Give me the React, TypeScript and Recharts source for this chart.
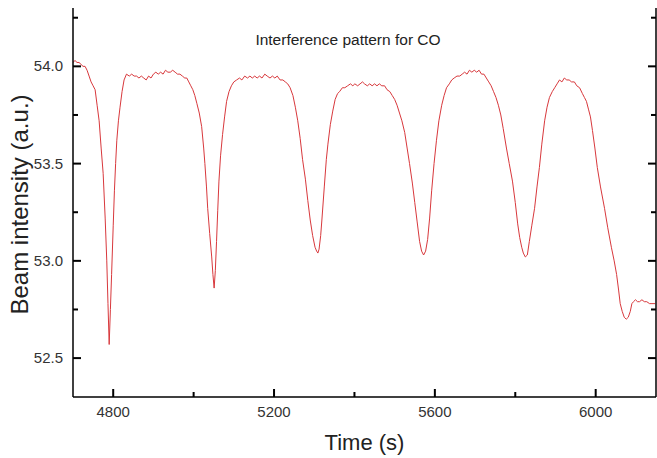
import { LineChart, Line, XAxis, YAxis } from "recharts"

const times = [
  4700, 4705, 4710, 4715, 4720, 4725, 4730, 4735, 4740, 4745,
  4750, 4755, 4760, 4765, 4770, 4775, 4780, 4784, 4787, 4790,
  4793, 4796, 4800, 4803, 4806, 4809, 4813, 4817, 4822, 4827,
  4833, 4840, 4846, 4852, 4858, 4864, 4870, 4876, 4882, 4888,
  4894, 4900, 4906, 4912, 4918, 4924, 4930, 4936, 4942, 4948,
  4954, 4960, 4966, 4972, 4978, 4983, 4988, 4993, 4998, 5003,
  5008, 5014, 5020, 5025, 5028, 5032, 5035, 5040, 5045, 5048,
  5051, 5054, 5057, 5060, 5063, 5067, 5072, 5077, 5082, 5088,
  5094, 5100, 5107, 5114, 5120, 5127, 5134, 5140, 5146, 5152,
  5158, 5164, 5170, 5177, 5183, 5190, 5196, 5202, 5208, 5215,
  5222, 5228, 5234, 5240, 5247, 5253, 5259, 5265, 5271, 5278,
  5284, 5290, 5296, 5302, 5306, 5309, 5312, 5316, 5319, 5325,
  5330, 5334, 5340, 5346, 5352, 5358, 5363, 5370, 5376, 5383,
  5390, 5396, 5401, 5408, 5414, 5420, 5425, 5432, 5438, 5444,
  5450, 5456, 5462, 5468, 5475, 5481, 5488, 5494, 5500, 5506,
  5512, 5518, 5525, 5531, 5537, 5544, 5550, 5556, 5562, 5567,
  5572, 5577, 5582, 5587, 5592, 5598, 5604, 5610, 5617, 5623,
  5629, 5636, 5642, 5648, 5655, 5662, 5668, 5674, 5680, 5686,
  5692, 5698, 5704, 5710, 5716, 5722, 5728, 5734, 5740, 5746,
  5752, 5758, 5764, 5770, 5778, 5785, 5793, 5800, 5806, 5811,
  5816, 5820, 5825, 5830, 5835, 5841, 5848, 5854, 5860, 5866,
  5873, 5879, 5885, 5892, 5898, 5904, 5910, 5916, 5922, 5928,
  5934, 5940, 5947, 5953, 5960, 5967, 5972, 5977, 5982, 5987,
  5992, 5998, 6004, 6012, 6022, 6030, 6039, 6046, 6052, 6057,
  6061, 6066, 6071, 6076, 6081, 6086, 6090, 6094, 6099, 6104,
  6109, 6115, 6121, 6127, 6134, 6140, 6148,
]

const intensity = [
  54.02, 54.03, 54.02, 54.02, 54.01, 54.0, 54.0, 53.98, 53.95, 53.92,
  53.9, 53.88, 53.8, 53.72, 53.58, 53.45, 53.22, 53.0, 52.78, 52.57,
  52.75, 52.93, 53.18, 53.36, 53.5, 53.62, 53.72, 53.79, 53.87, 53.93,
  53.96, 53.95, 53.96, 53.95, 53.95, 53.94, 53.95, 53.94, 53.93, 53.95,
  53.94, 53.96, 53.97, 53.96, 53.97, 53.96, 53.98, 53.97, 53.97, 53.98,
  53.97, 53.96, 53.96, 53.95, 53.94, 53.94, 53.92, 53.9, 53.88, 53.85,
  53.81, 53.76, 53.69, 53.58, 53.5, 53.38, 53.27, 53.14, 53.02, 52.93,
  52.86, 52.95, 53.1, 53.26, 53.41, 53.54, 53.65, 53.74, 53.82, 53.87,
  53.9, 53.92, 53.93, 53.94, 53.93, 53.95, 53.94, 53.95, 53.94, 53.95,
  53.94, 53.95, 53.94, 53.96, 53.95, 53.94, 53.95, 53.94, 53.95, 53.93,
  53.93, 53.92, 53.91, 53.89, 53.85, 53.79, 53.72, 53.63, 53.52, 53.42,
  53.31, 53.21, 53.13, 53.07, 53.05, 53.04, 53.06, 53.13, 53.21, 53.38,
  53.52, 53.6, 53.7, 53.77, 53.83, 53.86, 53.87, 53.89, 53.89, 53.9,
  53.91, 53.9, 53.91, 53.9, 53.91, 53.92, 53.91, 53.9, 53.91, 53.9,
  53.91, 53.9, 53.91, 53.9, 53.9, 53.88, 53.87, 53.85, 53.83, 53.8,
  53.76, 53.72, 53.66, 53.58, 53.5, 53.4, 53.3, 53.2, 53.1, 53.05,
  53.03, 53.05, 53.11, 53.22, 53.36, 53.5, 53.62, 53.72, 53.8, 53.85,
  53.89, 53.91, 53.93, 53.94, 53.95, 53.95, 53.96, 53.97, 53.96, 53.98,
  53.97, 53.98, 53.97, 53.98, 53.96, 53.96, 53.94, 53.92, 53.9, 53.87,
  53.84, 53.8, 53.75, 53.68, 53.58, 53.5, 53.41, 53.3, 53.19, 53.12,
  53.07, 53.04, 53.02, 53.03, 53.1, 53.18, 53.27, 53.38, 53.48, 53.6,
  53.72, 53.79, 53.84, 53.87, 53.89, 53.91, 53.93, 53.92, 53.94, 53.93,
  53.93, 53.92, 53.92, 53.9, 53.89, 53.86, 53.84, 53.82, 53.78, 53.74,
  53.67, 53.58, 53.48, 53.38, 53.27, 53.17, 53.07, 53.0, 52.93, 52.85,
  52.78, 52.74, 52.71, 52.7, 52.71, 52.74, 52.78, 52.79, 52.8, 52.79,
  52.79, 52.8, 52.79, 52.79, 52.78, 52.78, 52.78,
]

const xTicks = [4800, 5000, 5200, 5400, 5600, 5800, 6000]
const yTicks = [52.5, 52.75, 53.0, 53.25, 53.5, 53.75, 54.0, 54.25]

const data = times.map((t, i) => ({ t, v: intensity[i] }))

const FONT = "'Liberation Sans', Arial, sans-serif"
const LINE_COLOR = "#d8383c"
const INK = "#000"
const AXIS = { stroke: INK, strokeWidth: 1.5 }
const X_DOMAIN = [4700, 6150]
const Y_DOMAIN = [52.3, 54.3]

const isMajorX = (v: number) => v % 400 === 0
const isMajorY = (v: number) => Math.abs(v * 2 - Math.round(v * 2)) < 1e-6

// inward tick marks, drawn as thin rects
function BottomTick({ x, y, payload }: any) {
  const major = isMajorX(payload.value)
  const len = major ? 8 : 5
  return (
    <g>
      <rect x={x - 1} y={y - len} width={2} height={len} fill={INK} />
      {major && (
        <text x={x} y={y + 20} textAnchor="middle" fontSize={15} fontFamily={FONT} fill="#333">
          {payload.value}
        </text>
      )}
    </g>
  )
}

function TopTick({ x, y, payload }: any) {
  const len = isMajorX(payload.value) ? 8 : 5
  return <rect x={x - 1} y={y} width={2} height={len} fill={INK} />
}

function LeftTick({ x, y, payload }: any) {
  const major = isMajorY(payload.value)
  const len = major ? 8 : 5
  return (
    <g>
      <rect x={x} y={y - 1} width={len} height={2} fill={INK} />
      {major && (
        <text x={x - 10} y={y + 5} textAnchor="end" fontSize={15} fontFamily={FONT} fill="#333">
          {payload.value.toFixed(1)}
        </text>
      )}
    </g>
  )
}

function RightTick({ x, y, payload }: any) {
  const len = isMajorY(payload.value) ? 8 : 5
  return <rect x={x - len} y={y - 1} width={len} height={2} fill={INK} />
}

export default function App() {
  return (
    <div style={{ position: "absolute", left: 0, top: 0, width: 657, height: 458, background: "#fff" }}>
      <LineChart width={657} height={458} data={data} margin={{ top: 8, right: 0, bottom: 0, left: 0 }}>
        <XAxis
          dataKey="t"
          type="number"
          domain={X_DOMAIN}
          ticks={xTicks}
          allowDataOverflow
          height={61}
          tickSize={0}
          tickMargin={0}
          tickLine={false}
          tick={<BottomTick />}
          axisLine={AXIS}
          label={{ value: "Time (s)", position: "insideBottom", offset: 8, fontSize: 22, fontFamily: FONT, fill: "#222" }}
        />
        <XAxis
          xAxisId="top"
          orientation="top"
          dataKey="t"
          type="number"
          domain={X_DOMAIN}
          ticks={xTicks}
          allowDataOverflow
          height={0}
          tickSize={0}
          tickMargin={0}
          tickLine={false}
          tick={<TopTick />}
          axisLine={AXIS}
        />
        <YAxis
          type="number"
          domain={Y_DOMAIN}
          ticks={yTicks}
          allowDataOverflow
          width={73}
          tickSize={0}
          tickMargin={0}
          tickLine={false}
          tick={<LeftTick />}
          axisLine={AXIS}
          label={{ value: "Beam intensity (a.u.)", angle: -90, position: "insideLeft", offset: 19, dy: 2, style: { textAnchor: "middle" }, fontSize: 24, fontFamily: FONT, fill: "#222" }}
        />
        <YAxis
          yAxisId="right"
          orientation="right"
          type="number"
          domain={Y_DOMAIN}
          ticks={yTicks}
          allowDataOverflow
          width={1}
          tickSize={0}
          tickMargin={0}
          tickLine={false}
          tick={<RightTick />}
          axisLine={AXIS}
        />
        <Line
          type="linear"
          dataKey="v"
          stroke={LINE_COLOR}
          strokeWidth={1}
          dot={false}
          isAnimationActive={false}
        />
        {/* invisible copy so the top/right frame axes get their scales */}
        <Line xAxisId="top" yAxisId="right" dataKey="v" stroke="none" dot={false} activeDot={false} isAnimationActive={false} />
      </LineChart>
      <div
        style={{
          position: "absolute",
          left: 248,
          width: 200,
          top: 31,
          textAlign: "center",
          fontFamily: FONT,
          fontSize: 15.5,
          color: "#222",
          whiteSpace: "nowrap",
        }}
      >
        Interference pattern for CO
      </div>
    </div>
  )
}
